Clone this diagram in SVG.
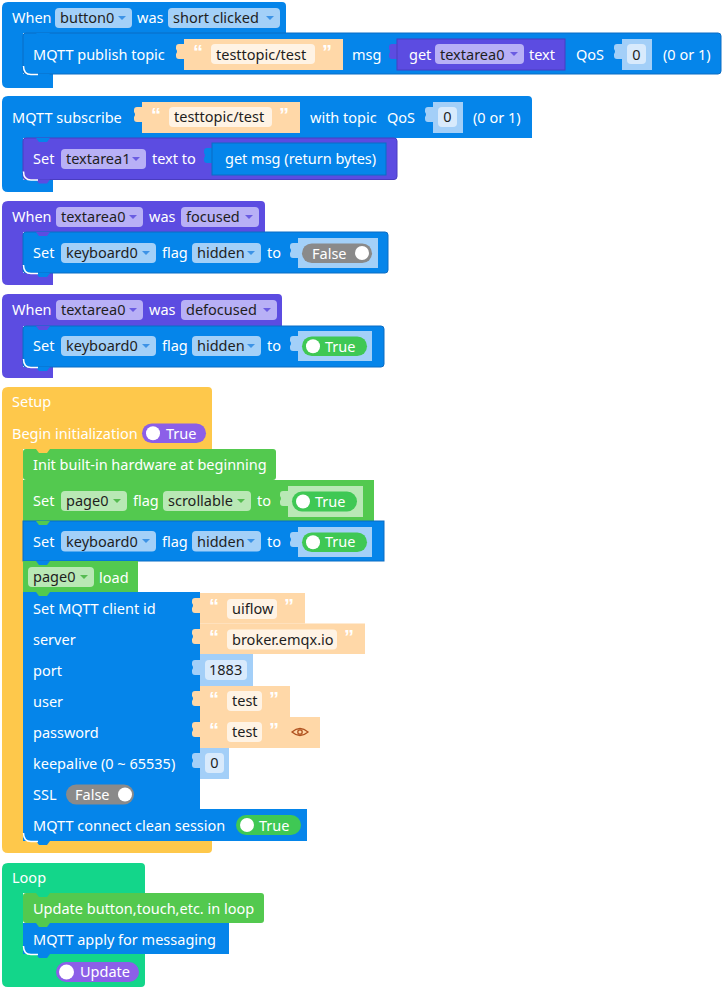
<svg xmlns="http://www.w3.org/2000/svg" xmlns:xlink="http://www.w3.org/1999/xlink" width="727" height="993" viewBox="0 0 727 993">
<style>
text{font-family:"Noto Sans","Liberation Sans",sans-serif;font-size:14.5px;fill:#fff}
.dk{fill:#1e1e1e}
.q{font-family:"Liberation Sans","DejaVu Sans",sans-serif;font-size:20px;font-weight:bold;fill:#fff}
.blue{fill:#0585ea}
.bl2{fill:#0585ea;stroke:#0b6cc4;stroke-width:1}
.pur{fill:#5c4ce1}
.pu2{fill:#5c4ce1;stroke:#4a3cc0;stroke-width:1}
.grn{fill:#53c94f}
.yel{fill:#fec84b}
.lgr{fill:#13d68a}
.str{fill:#ffd8a8}
.sfd{fill:#fff3e4}
.num{fill:#a3cff8}
.nfd{fill:#d8eafc}
.fb{fill:#a3d0f8}
.fp{fill:#b8b0f6}
.fg{fill:#b9e8b5}
.ab{fill:#3d93e6}
.ap{fill:#6a5ce2}
.ag{fill:#56bb51}
.ton{fill:#3fc854}
.tof{fill:#8a8a8a}
.tpu{fill:#8c5fe8}
.hl{fill:none;stroke:#fff;stroke-width:1.5}
</style>
<defs>
<path id="tab" d="M0,5 H-5 Q-8,5 -8,8 V10 Q-6,12.5 -8,15 V17 Q-8,20 -5,20 H0 Z"/>
<path id="nt" d="M13,0 L16,4 H24 L27,0 Z"/>
<polygon id="arr" points="-4,-2 4,-2 0,2"/>
</defs>
<g id="connectors"/>

<g id="b1">
<path class="blue" d="M2,8 Q2,2 8,2 H282 Q286,2 286,6 V33 H23 V74 H53 V88 H8 Q2,88 2,82 Z"/>
<text x="12" y="23">When</text>
<rect class="fb" x="55" y="8" width="77" height="20" rx="4"/><text class="dk" x="60" y="23">button0</text><use href="#arr" x="122" y="18" class="ab"/>
<text x="137" y="23">was</text>
<rect class="fb" x="168" y="8" width="112" height="20" rx="4"/><text class="dk" x="173" y="23">short clicked</text><use href="#arr" x="270" y="18" class="ab"/>
<rect class="bl2" x="23" y="33" width="698" height="41" rx="3"/>
<use href="#nt" x="23" y="33" class="blue"/>
<use href="#nt" x="23" y="74" class="blue"/>
<path class="hl" d="M23.5,66 Q23.5,74.5 31,74.5 H38"/>
<text x="33" y="60">MQTT publish topic</text>
<use href="#tab" x="184" y="39" class="str"/>
<rect class="str" x="184" y="39" width="159" height="31"/>
<text class="q" x="193" y="59">“</text>
<rect class="sfd" x="211" y="44" width="104" height="20" rx="4"/><text class="dk" x="216" y="59.5">testtopic/test</text>
<text class="q" x="322" y="59">”</text>
<text x="352" y="60">msg</text>
<use href="#tab" x="397" y="39" class="pur"/>
<rect class="pu2" x="397" y="39" width="168" height="31"/>
<text x="409" y="60">get</text>
<rect class="fp" x="435" y="44" width="89" height="20" rx="4"/><text class="dk" x="440" y="59.5">textarea0</text><use href="#arr" x="514" y="54" class="ap"/>
<text x="529" y="60">text</text>
<text x="576" y="60">QoS</text>
<use href="#tab" x="622" y="39" class="num"/>
<rect class="num" x="622" y="39" width="30" height="31"/>
<rect class="nfd" x="627" y="44" width="19" height="20" rx="4"/><text class="dk" x="636.5" y="59.5" text-anchor="middle">0</text>
<text x="663" y="60">(0 or 1)</text>
</g>

<g id="b2">
<path class="blue" d="M2,102 Q2,96 8,96 H528 Q532,96 532,100 V138 H23 V179.5 H53 V192 H8 Q2,192 2,186 Z"/>
<text x="12" y="122.5">MQTT subscribe</text>
<use href="#tab" x="142" y="102" class="str"/>
<rect class="str" x="142" y="102" width="158" height="31"/>
<text class="q" x="151" y="122">“</text>
<rect class="sfd" x="169" y="107" width="103" height="20" rx="4"/><text class="dk" x="174" y="122">testtopic/test</text>
<text class="q" x="279" y="122">”</text>
<text x="310" y="122.5">with topic</text>
<text x="387" y="122.5">QoS</text>
<use href="#tab" x="433" y="102" class="num"/>
<rect class="num" x="433" y="102" width="30" height="31"/>
<rect class="nfd" x="438" y="107" width="19" height="20" rx="4"/><text class="dk" x="447.5" y="122" text-anchor="middle">0</text>
<text x="473" y="122.5">(0 or 1)</text>
<rect class="pu2" x="23" y="138" width="374" height="41.5" rx="3"/>
<use href="#nt" x="23" y="138" class="blue"/>
<use href="#nt" x="23" y="179.5" class="pur"/>
<path class="hl" d="M23.5,171.5 Q23.5,180 31,180 H38"/>
<text x="33" y="164">Set</text>
<rect class="fp" x="61" y="149" width="85" height="20" rx="4"/><text class="dk" x="66" y="164">textarea1</text><use href="#arr" x="136" y="159" class="ap"/>
<text x="152" y="164">text to</text>
<use href="#tab" x="212" y="143" class="blue"/>
<rect class="bl2" x="212" y="143" width="174" height="32"/>
<text x="225" y="164">get msg (return bytes)</text>
</g>

<g id="b3">
<path class="pur" d="M2,207 Q2,201 8,201 H261 Q265,201 265,205 V232 H23 V273 H53 V285 H8 Q2,285 2,279 Z"/>
<text x="12" y="222">When</text>
<rect class="fp" x="56" y="207" width="87" height="20" rx="4"/><text class="dk" x="61" y="222">textarea0</text><use href="#arr" x="133" y="217" class="ap"/>
<text x="149" y="222">was</text>
<rect class="fp" x="181" y="207" width="78" height="20" rx="4"/><text class="dk" x="186" y="222">focused</text><use href="#arr" x="249" y="217" class="ap"/>
<rect class="bl2" x="23" y="232" width="365" height="41" rx="3"/>
<use href="#nt" x="23" y="232" class="pur"/>
<use href="#nt" x="23" y="273" class="blue"/>
<path class="hl" d="M23.5,265 Q23.5,273.5 31,273.5 H38"/>
<text x="33" y="258">Set</text>
<rect class="fb" x="61" y="243" width="95" height="20" rx="4"/><text class="dk" x="66" y="258">keyboard0</text><use href="#arr" x="146" y="253" class="ab"/>
<text x="162" y="258">flag</text>
<rect class="fb" x="192" y="243" width="69" height="20" rx="4"/><text class="dk" x="197" y="258">hidden</text><use href="#arr" x="251" y="253" class="ab"/>
<text x="267" y="258">to</text>
<use href="#tab" x="298" y="238" class="fb"/>
<rect class="fb" x="298" y="238" width="80" height="30"/>
<rect class="tof" x="302" y="243.5" width="70" height="19.5" rx="9.75"/>
<text x="312" y="258.5">False</text>
<circle cx="362" cy="253" r="7" fill="#fff"/>
</g>

<g id="b4">
<path class="pur" d="M2,300 Q2,294 8,294 H278 Q282,294 282,298 V326 H23 V367 H53 V378 H8 Q2,378 2,372 Z"/>
<text x="12" y="315">When</text>
<rect class="fp" x="56" y="300" width="87" height="20" rx="4"/><text class="dk" x="61" y="315">textarea0</text><use href="#arr" x="133" y="310" class="ap"/>
<text x="149" y="315">was</text>
<rect class="fp" x="181" y="300" width="96" height="20" rx="4"/><text class="dk" x="186" y="315">defocused</text><use href="#arr" x="267" y="310" class="ap"/>
<rect class="bl2" x="23" y="326" width="361" height="41" rx="3"/>
<use href="#nt" x="23" y="326" class="pur"/>
<use href="#nt" x="23" y="367" class="blue"/>
<path class="hl" d="M23.5,359 Q23.5,367.5 31,367.5 H38"/>
<text x="33" y="351">Set</text>
<rect class="fb" x="61" y="336" width="95" height="20" rx="4"/><text class="dk" x="66" y="351">keyboard0</text><use href="#arr" x="146" y="346" class="ab"/>
<text x="162" y="351">flag</text>
<rect class="fb" x="192" y="336" width="69" height="20" rx="4"/><text class="dk" x="197" y="351">hidden</text><use href="#arr" x="251" y="346" class="ab"/>
<text x="267" y="351">to</text>
<use href="#tab" x="298" y="331" class="fb"/>
<rect class="fb" x="298" y="331" width="74" height="30"/>
<rect class="ton" x="302" y="336.5" width="65" height="19.5" rx="9.75"/>
<circle cx="313" cy="346.25" r="7" fill="#fff"/>
<text x="325" y="351.5">True</text>
</g>

<g id="b5">
<path class="yel" d="M2,393 Q2,387 8,387 H208 Q212,387 212,391 V449 H23 V841 H212 V849 Q212,853 208,853 H8 Q2,853 2,847 Z"/>
<text x="12" y="407">Setup</text>
<text x="12" y="438.5">Begin initialization</text>
<rect class="tpu" x="142" y="423.5" width="64" height="19.5" rx="9.75"/>
<circle cx="153" cy="433.25" r="7" fill="#fff"/>
<text x="166" y="438.5">True</text>
<rect class="grn" x="23" y="449" width="253" height="31" rx="3"/>
<use href="#nt" x="23" y="449" class="yel"/>
<text x="33" y="470">Init built-in hardware at beginning</text>
<rect class="grn" x="23" y="480" width="351" height="41"/>
<text x="33" y="506">Set</text>
<rect class="fg" x="61" y="491" width="66" height="20" rx="4"/><text class="dk" x="66" y="506">page0</text><use href="#arr" x="117" y="501" class="ag"/>
<text x="133" y="506">flag</text>
<rect class="fg" x="163" y="491" width="88" height="20" rx="4"/><text class="dk" x="168" y="506">scrollable</text><use href="#arr" x="241" y="501" class="ag"/>
<text x="257" y="506">to</text>
<use href="#tab" x="288" y="486" class="fg"/>
<rect class="fg" x="288" y="486" width="75" height="31"/>
<rect class="ton" x="292" y="491.5" width="65" height="20" rx="10"/>
<circle cx="303" cy="501.5" r="7" fill="#fff"/>
<text x="315" y="506.5">True</text>
<rect class="bl2" x="23" y="521" width="361" height="40"/>
<use href="#nt" x="23" y="521" class="grn"/>
<text x="33" y="546.5">Set</text>
<rect class="fb" x="61" y="531" width="95" height="20.5" rx="4"/><text class="dk" x="66" y="546.5">keyboard0</text><use href="#arr" x="146" y="541" class="ab"/>
<text x="162" y="546.5">flag</text>
<rect class="fb" x="192" y="531" width="69" height="20.5" rx="4"/><text class="dk" x="197" y="546.5">hidden</text><use href="#arr" x="251" y="541" class="ab"/>
<text x="267" y="546.5">to</text>
<use href="#tab" x="298" y="527" class="fb"/>
<rect class="fb" x="298" y="527" width="74" height="30"/>
<rect class="ton" x="302" y="532.5" width="65" height="19.5" rx="9.75"/>
<circle cx="313" cy="542.25" r="7" fill="#fff"/>
<text x="325" y="547">True</text>
<rect class="grn" x="23" y="561" width="115" height="31"/>
<use href="#nt" x="23" y="561" class="blue"/>
<rect class="fg" x="28" y="567" width="66" height="20" rx="4"/><text class="dk" x="33" y="582">page0</text><use href="#arr" x="84" y="577" class="ag"/>
<text x="99" y="582.5">load</text>
<rect class="blue" x="23" y="592" width="177" height="217"/>
<use href="#nt" x="23" y="592" class="grn"/>
<text x="33" y="613.5">Set MQTT client id</text>
<text x="33" y="644.5">server</text>
<text x="33" y="675.5">port</text>
<text x="33" y="706.5">user</text>
<text x="33" y="737.5">password</text>
<text x="33" y="768.5">keepalive (0 ~ 65535)</text>
<text x="33" y="799.5">SSL</text>
<rect class="tof" x="66" y="784.5" width="68" height="20" rx="10"/>
<text x="75" y="799.5">False</text>
<circle cx="125" cy="794.5" r="7" fill="#fff"/>
<use href="#tab" x="200" y="593" class="str"/>
<rect class="str" x="200" y="593" width="105" height="30.5"/>
<text class="q" x="209" y="613">“</text>
<rect class="sfd" x="227" y="599" width="50" height="20" rx="4"/><text class="dk" x="232" y="614">uiflow</text>
<text class="q" x="284" y="613">”</text>
<use href="#tab" x="200" y="624" class="str"/>
<rect class="str" x="200" y="623.5" width="165" height="30.5"/>
<text class="q" x="209" y="644">“</text>
<rect class="sfd" x="227" y="629.5" width="110" height="20" rx="4"/><text class="dk" x="232" y="644.5">broker.emqx.io</text>
<text class="q" x="344" y="644">”</text>
<use href="#tab" x="200" y="655" class="num"/>
<rect class="num" x="200" y="654" width="53" height="32"/>
<rect class="nfd" x="205" y="660" width="42" height="20" rx="4"/><text class="dk" x="209" y="675">1883</text>
<use href="#tab" x="200" y="686" class="str"/>
<rect class="str" x="200" y="686" width="90" height="31"/>
<text class="q" x="209" y="706">“</text>
<rect class="sfd" x="227" y="691" width="35" height="20" rx="4"/><text class="dk" x="232" y="706">test</text>
<text class="q" x="269" y="706">”</text>
<use href="#tab" x="200" y="717" class="str"/>
<rect class="str" x="200" y="717" width="120" height="31"/>
<text class="q" x="209" y="737">“</text>
<rect class="sfd" x="227" y="722" width="35" height="20" rx="4"/><text class="dk" x="232" y="737">test</text>
<text class="q" x="269" y="737">”</text>
<path d="M292,732 Q300,725 308,732 Q300,739 292,732 Z" fill="none" stroke="#b0521f" stroke-width="1.3"/>
<circle cx="300" cy="732" r="2.2" fill="none" stroke="#b0521f" stroke-width="1.3"/>
<use href="#tab" x="200" y="748" class="num"/>
<rect class="num" x="200" y="748" width="29" height="31"/>
<rect class="nfd" x="205" y="753" width="19" height="20" rx="4"/><text class="dk" x="214.5" y="768" text-anchor="middle">0</text>
<rect class="blue" x="23" y="809" width="284" height="32"/>
<use href="#nt" x="23" y="841" class="blue"/>
<path class="hl" d="M23.5,833 Q23.5,841.5 31,841.5 H38"/>
<text x="33" y="830.5">MQTT connect clean session</text>
<rect class="ton" x="236" y="815" width="65" height="20" rx="10"/>
<circle cx="247" cy="825" r="7" fill="#fff"/>
<text x="259" y="830.5">True</text>
</g>

<g id="b6">
<path class="lgr" d="M2,869 Q2,863 8,863 H141 Q145,863 145,867 V893 H23 V954 H145 V983 Q145,987 141,987 H8 Q2,987 2,981 Z"/>
<text x="12" y="883">Loop</text>
<rect class="grn" x="23" y="893" width="241" height="30" rx="3"/>
<use href="#nt" x="23" y="893" class="lgr"/>
<text x="33" y="914">Update button,touch,etc. in loop</text>
<rect class="blue" x="23" y="923" width="206" height="31"/>
<use href="#nt" x="23" y="923" class="grn"/>
<use href="#nt" x="23" y="954" class="blue"/>
<path class="hl" d="M23.5,946 Q23.5,954.5 31,954.5 H38"/>
<text x="33" y="945">MQTT apply for messaging</text>
<rect class="tpu" x="56" y="962" width="83" height="20" rx="10"/>
<circle cx="66.5" cy="972" r="7.5" fill="#fff"/>
<text x="80" y="977">Update</text>
</g>
</svg>
